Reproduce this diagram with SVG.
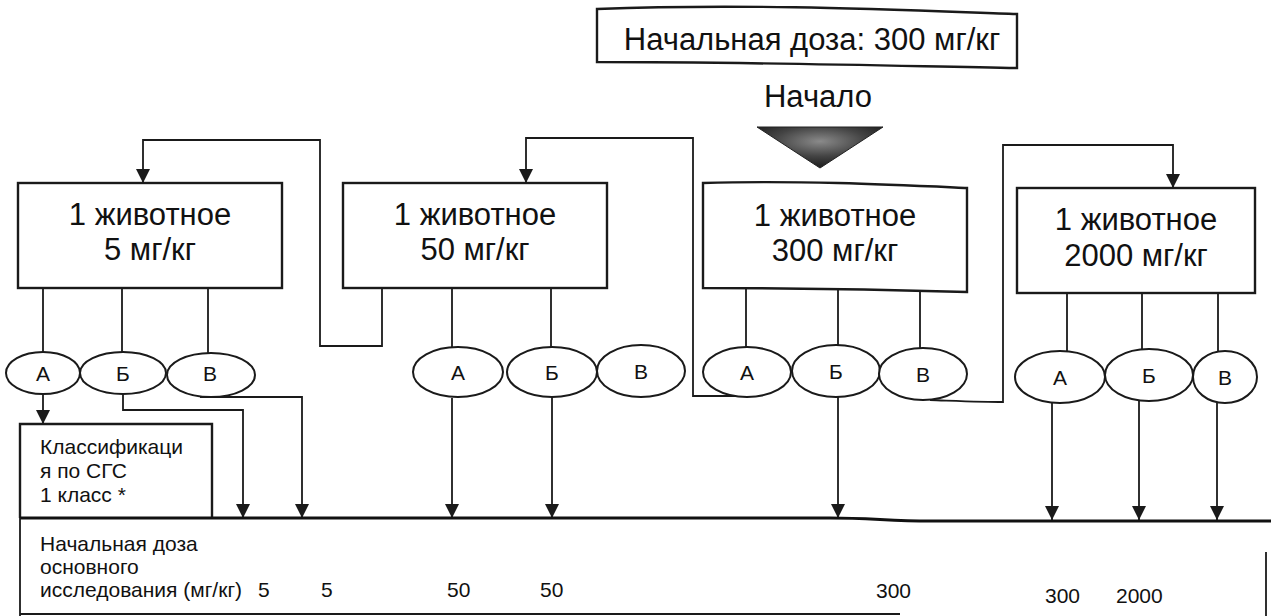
<svg xmlns="http://www.w3.org/2000/svg" width="1271" height="616" viewBox="0 0 1271 616">
  <style>
    .box { fill: #ffffff; stroke: #1a1a1a; stroke-width: 2.4; }
    .ell { fill: #ffffff; stroke: #1a1a1a; stroke-width: 2; }
    .ln { fill: none; stroke: #1a1a1a; stroke-width: 1.8; }
    .arr { fill: none; stroke: #1a1a1a; stroke-width: 1.8; marker-end: url(#ah); }
    .big { font-family: "Liberation Sans", Arial, sans-serif; font-size: 31px; fill: #111; text-anchor: middle; }
    .lbl { font-family: "Liberation Sans", Arial, sans-serif; font-size: 21px; fill: #111; text-anchor: middle; }
    .sm { font-family: "Liberation Sans", Arial, sans-serif; font-size: 21px; fill: #111; }
  </style>
  <defs>
    <marker id="ah" viewBox="0 0 14 14" refX="14" refY="7" markerWidth="14" markerHeight="14" markerUnits="userSpaceOnUse" orient="auto">
      <path d="M0,0 L14,7 L0,14 Z" fill="#1a1a1a"/>
    </marker>
    <radialGradient id="startGrad" cx="0.5" cy="0.35" r="0.6">
      <stop offset="0" stop-color="#8a8a8a"/>
      <stop offset="0.6" stop-color="#444"/>
      <stop offset="1" stop-color="#222"/>
    </radialGradient>
  </defs>

  <!-- Header: starting dose -->
  <g id="start-dose">
    <path class="box" d="M597,9 C750,3 900,10 1017,14 L1017,68 C900,66 750,62 597,62 Z"/>
    <text class="big" x="812" y="50">Начальная доза: 300 мг/кг</text>
  </g>

  <g id="start">
    <text class="big" x="818" y="107">Начало</text>
    <path d="M757,127 L883,127 L820,168 Z" fill="url(#startGrad)" stroke="#222" stroke-width="1"/>
  </g>

  <!-- Dose step boxes -->
  <g id="dose-5">
    <rect class="box" x="18" y="183" width="264" height="105"/>
    <text class="big" x="150" y="225">1 животное</text>
    <text class="big" x="150" y="260">5 мг/кг</text>
  </g>
  <g id="dose-50">
    <rect class="box" x="343" y="183" width="264" height="105"/>
    <text class="big" x="475" y="225">1 животное</text>
    <text class="big" x="475" y="260">50 мг/кг</text>
  </g>
  <g id="dose-300">
    <path class="box" d="M703,183 C800,180 900,185 967,188 L967,292 C900,290 800,288 703,288 Z"/>
    <text class="big" x="835" y="226">1 животное</text>
    <text class="big" x="835" y="261">300 мг/кг</text>
  </g>
  <g id="dose-2000">
    <rect class="box" x="1017" y="188" width="238" height="105"/>
    <text class="big" x="1136" y="230">1 животное</text>
    <text class="big" x="1136" y="266">2000 мг/кг</text>
  </g>

  <!-- Connectors -->
  <g id="connectors">
    <!-- box to outcome stems -->
    <path class="ln" d="M43,288 V353 M122,288 V352 M208,288 V353"/>
    <path class="ln" d="M452,288 V347 M551,288 V347"/>
    <path class="ln" d="M746,288 V347 M838,290 V346 M920,292 V349"/>
    <path class="ln" d="M1067,293 V352 M1142,293 V349 M1218,293 V352"/>

    <!-- step down: 50 -> 5 -->
    <path class="arr" d="M382,288 V346 H320 V140 H143 V183"/>
    <!-- step down: 300 (А) -> 50 -->
    <path class="arr" d="M735,396 H693 V138 H526 V183"/>
    <!-- step up: 300 (В) -> 2000 -->
    <path class="arr" d="M930,400 C960,401 985,402 1003,402 V145 H1173 V188"/>

    <!-- outcomes to classification / main-study dose -->
    <path class="arr" d="M43,394 V424"/>
    <path class="arr" d="M123,394 V410 H243 V518"/>
    <path class="arr" d="M200,397 H302 V518"/>
    <path class="arr" d="M452,398 V518"/>
    <path class="arr" d="M552,398 V518"/>
    <path class="arr" d="M838,397 V518"/>
    <path class="arr" d="M1052,403 V520"/>
    <path class="arr" d="M1139,401 V520"/>
    <path class="arr" d="M1217,403 V520"/>
  </g>

  <!-- Outcome ellipses -->
  <g id="outcomes-5">
    <ellipse class="ell" cx="43" cy="373" rx="37" ry="21"/>
    <ellipse class="ell" cx="123" cy="373" rx="43" ry="21"/>
    <ellipse class="ell" cx="211" cy="375" rx="44" ry="22"/>
    <text class="lbl" x="43" y="381">А</text>
    <text class="lbl" x="123" y="381">Б</text>
    <text class="lbl" x="210" y="381">В</text>
  </g>
  <g id="outcomes-50">
    <ellipse class="ell" cx="458" cy="372" rx="45" ry="25"/>
    <ellipse class="ell" cx="552" cy="372" rx="45" ry="25"/>
    <ellipse class="ell" cx="641" cy="371" rx="44" ry="26"/>
    <text class="lbl" x="458" y="380">А</text>
    <text class="lbl" x="552" y="380">Б</text>
    <text class="lbl" x="641" y="379">В</text>
  </g>
  <g id="outcomes-300">
    <ellipse class="ell" cx="747" cy="372" rx="44" ry="25"/>
    <ellipse class="ell" cx="836" cy="371" rx="44" ry="26"/>
    <ellipse class="ell" cx="923" cy="374" rx="44" ry="26"/>
    <text class="lbl" x="747" y="380">А</text>
    <text class="lbl" x="836" y="379">Б</text>
    <text class="lbl" x="923" y="382">В</text>
  </g>
  <g id="outcomes-2000">
    <ellipse class="ell" cx="1060" cy="377" rx="45" ry="26"/>
    <ellipse class="ell" cx="1149" cy="375" rx="44" ry="26"/>
    <ellipse class="ell" cx="1225" cy="377" rx="32" ry="26"/>
    <text class="lbl" x="1060" y="385">А</text>
    <text class="lbl" x="1149" y="383">Б</text>
    <text class="lbl" x="1225" y="385">В</text>
  </g>

  <!-- Classification result -->
  <g id="classification">
    <path class="box" d="M20,518 V424 H212 V518"/>
    <text class="sm" x="40" y="454">Классификаци</text>
    <text class="sm" x="40" y="478">я по СГС</text>
    <text class="sm" x="40" y="502">1 класс *</text>
  </g>

  <!-- Main-study starting dose row -->
  <g id="main-dose-row">
    <path d="M20,518 H830 C870,518 890,521 930,521 H1271" fill="none" stroke="#111" stroke-width="3"/>
    <path class="ln" d="M20,518 V616 M20,614 H900 M1266,552 V616"/>
    <text class="sm" x="40" y="551">Начальная доза</text>
    <text class="sm" x="40" y="574">основного</text>
    <text class="sm" x="40" y="597">исследования (мг/кг)</text>
    <text class="sm" x="258" y="597">5</text>
    <text class="sm" x="321" y="597">5</text>
    <text class="sm" x="447" y="597">50</text>
    <text class="sm" x="540" y="597">50</text>
    <text class="sm" x="876" y="598">300</text>
    <text class="sm" x="1045" y="603">300</text>
    <text class="sm" x="1116" y="603">2000</text>
  </g>
</svg>
